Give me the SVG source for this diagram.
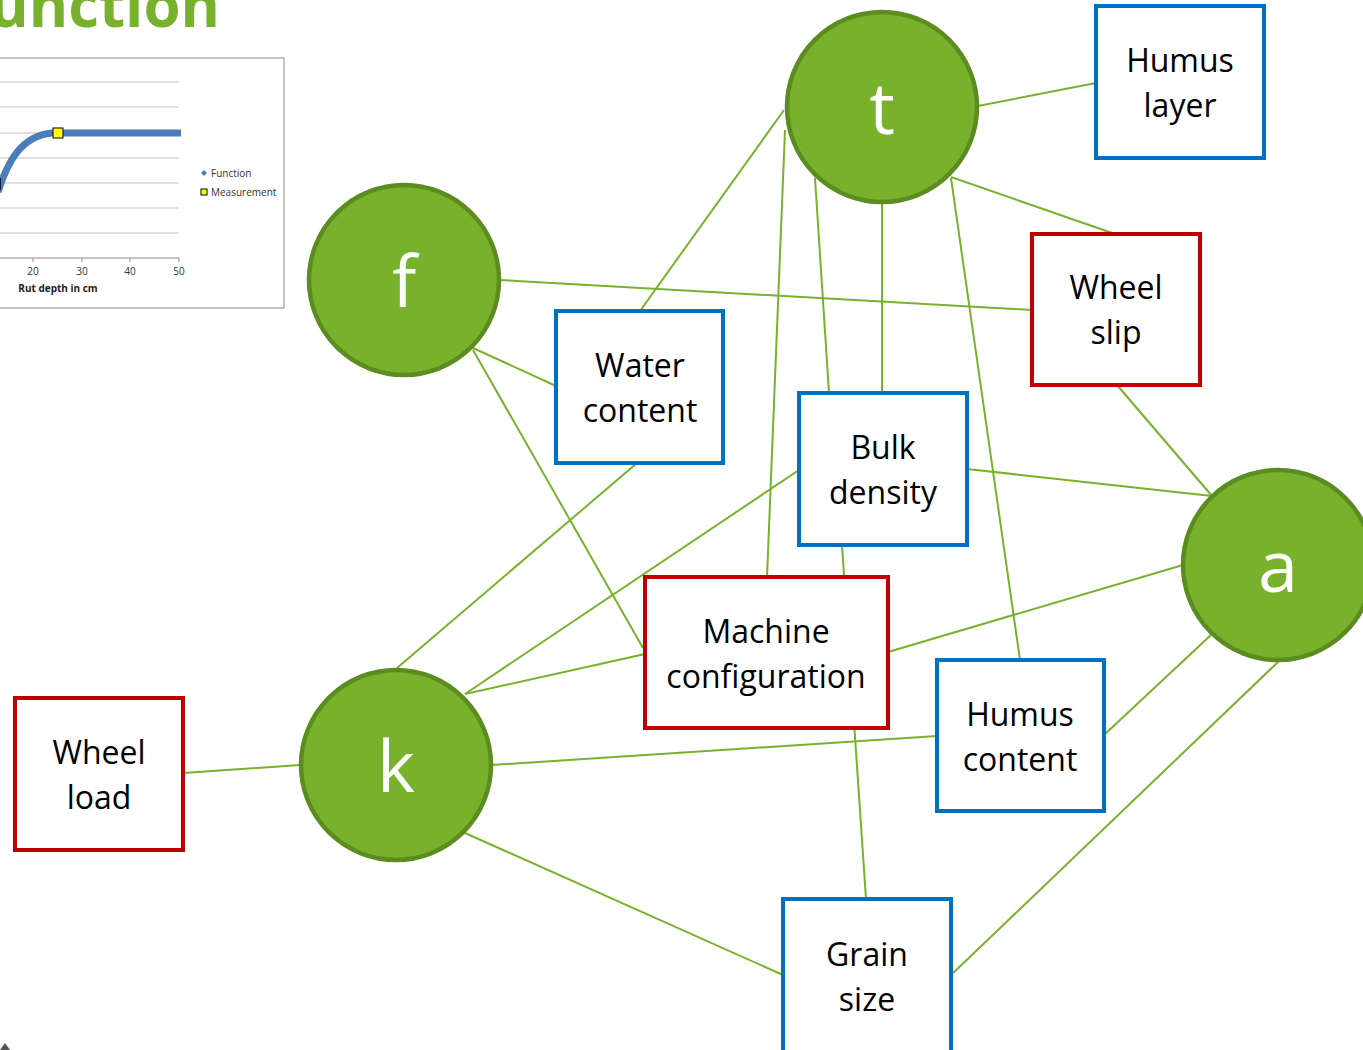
<svg xmlns="http://www.w3.org/2000/svg" width="1363" height="1050" viewBox="0 0 1363 1050">
<style>
.c{fill:#78B22C;stroke:#5C8C1F;stroke-width:4.5}
.ct{font-family:"Open Sans","Noto Sans",sans-serif;font-size:72px;fill:#fff;text-anchor:middle}
.bb{fill:#fff;stroke:#0070C0;stroke-width:4}
.br{fill:#fff;stroke:#C00000;stroke-width:4}
.bt{font-family:"Open Sans","Noto Sans",sans-serif;font-size:32px;fill:#000;text-anchor:middle}
.e{stroke:#78B22C;stroke-width:2;fill:none}
.g{stroke:#BFBFBF;stroke-width:1}
.sm{font-family:"Open Sans","Noto Sans",sans-serif;font-size:10px;fill:#333}
</style>
<rect width="1363" height="1050" fill="#fff"/>
<text x="220" y="27" font-family="Open Sans, Noto Sans, sans-serif" font-weight="bold" font-size="60" fill="#78B22C" text-anchor="end">Function</text>
<g id="chart">
<rect x="-2" y="58" width="286" height="250" fill="#fff" stroke="#8C8C8C" stroke-width="1"/>
<line class="g" x1="0" y1="82" x2="179" y2="82"/>
<line class="g" x1="0" y1="107" x2="179" y2="107"/>
<line class="g" x1="0" y1="133" x2="179" y2="133"/>
<line class="g" x1="0" y1="158" x2="179" y2="158"/>
<line class="g" x1="0" y1="183" x2="179" y2="183"/>
<line class="g" x1="0" y1="208" x2="179" y2="208"/>
<line class="g" x1="0" y1="233" x2="179" y2="233"/>
<line x1="0" y1="258" x2="179" y2="258" stroke="#8C8C8C" stroke-width="1"/>
<path d="M33 258v4M82 258v4M130 258v4M179 258v4" stroke="#8C8C8C" stroke-width="1"/>
<text class="sm" x="33" y="275" text-anchor="middle">20</text>
<text class="sm" x="82" y="275" text-anchor="middle">30</text>
<text class="sm" x="130" y="275" text-anchor="middle">40</text>
<text class="sm" x="179" y="275" text-anchor="middle">50</text>
<text x="58" y="292" font-family="Open Sans, Noto Sans, sans-serif" font-size="10" font-weight="bold" fill="#222" text-anchor="middle">Rut depth in cm</text>
<path d="M-2 192 C8 160 22 136 52 133 L181 133" stroke="#4A7EBB" stroke-width="7" fill="none"/>
<line x1="0" y1="178" x2="0" y2="190" stroke="#000" stroke-width="1.5"/>
<rect x="53" y="128" width="10" height="10" fill="#FFFF00" stroke="#000" stroke-width="1"/>
<path d="M204 170l3 3-3 3-3-3z" fill="#4A7EBB"/>
<text class="sm" x="211" y="177">Function</text>
<rect x="201" y="189" width="6" height="6" fill="#FFFF00" stroke="#000" stroke-width="1"/>
<text class="sm" x="211" y="196">Measurement</text>
</g>
<g id="connectors">
<line class="e" x1="978" y1="106" x2="1096" y2="83"/>
<line class="e" x1="951" y1="177" x2="1115" y2="234"/>
<line class="e" x1="784" y1="110" x2="640" y2="311"/>
<line class="e" x1="785" y1="130" x2="767" y2="577"/>
<line class="e" x1="815" y1="178" x2="829" y2="393"/>
<line class="e" x1="882" y1="204" x2="882" y2="393"/>
<line class="e" x1="951" y1="178" x2="1020" y2="660"/>
<line class="e" x1="500" y1="280" x2="1032" y2="310"/>
<line class="e" x1="473" y1="348" x2="556" y2="386"/>
<line class="e" x1="473" y1="350" x2="643" y2="648"/>
<line class="e" x1="637" y1="463" x2="397" y2="668"/>
<line class="e" x1="799" y1="470" x2="465" y2="694"/>
<line class="e" x1="645" y1="654" x2="465" y2="694"/>
<line class="e" x1="842" y1="545" x2="866" y2="899"/>
<line class="e" x1="967" y1="469" x2="1212" y2="496"/>
<line class="e" x1="1117" y1="385" x2="1212" y2="496"/>
<line class="e" x1="888" y1="652" x2="1183" y2="565"/>
<line class="e" x1="1104" y1="735" x2="1212" y2="634"/>
<line class="e" x1="1278" y1="662" x2="951" y2="975"/>
<line class="e" x1="183" y1="773" x2="300" y2="765"/>
<line class="e" x1="492" y1="765" x2="937" y2="736"/>
<line class="e" x1="465" y1="833" x2="783" y2="975"/>
</g>
<g id="node-t"><circle class="c" cx="882" cy="107" r="95"/><text class="ct" x="882" y="134">t</text></g>
<g id="node-f"><circle class="c" cx="404" cy="280" r="95"/><text class="ct" x="404" y="307">f</text></g>
<g id="node-k"><circle class="c" cx="396" cy="765" r="95"/><text class="ct" x="396" y="792">k</text></g>
<g id="node-a"><circle class="c" cx="1278" cy="565" r="95"/><text class="ct" x="1278" y="592">a</text></g>
<g id="node-humus-layer"><rect class="bb" x="1096" y="6" width="168" height="152"/><text class="bt" x="1180" y="72">Humus</text><text class="bt" x="1180" y="117">layer</text></g>
<g id="node-wheel-slip"><rect class="br" x="1032" y="234" width="168" height="151"/><text class="bt" x="1116" y="299">Wheel</text><text class="bt" x="1116" y="344">slip</text></g>
<g id="node-water-content"><rect class="bb" x="556" y="311" width="167" height="152"/><text class="bt" x="640" y="377">Water</text><text class="bt" x="640" y="422">content</text></g>
<g id="node-bulk-density"><rect class="bb" x="799" y="393" width="168" height="152"/><text class="bt" x="883" y="459">Bulk</text><text class="bt" x="883" y="504">density</text></g>
<g id="node-machine-configuration"><rect class="br" x="645" y="577" width="243" height="151"/><text class="bt" x="766" y="643">Machine</text><text class="bt" x="766" y="688">configuration</text></g>
<g id="node-humus-content"><rect class="bb" x="937" y="660" width="167" height="151"/><text class="bt" x="1020" y="726">Humus</text><text class="bt" x="1020" y="771">content</text></g>
<g id="node-wheel-load"><rect class="br" x="15" y="698" width="168" height="152"/><text class="bt" x="99" y="764">Wheel</text><text class="bt" x="99" y="809">load</text></g>
<g id="node-grain-size"><rect class="bb" x="783" y="899" width="168" height="156"/><text class="bt" x="867" y="966">Grain</text><text class="bt" x="867" y="1011">size</text></g>
<path d="M0 1050 L5 1043 L10 1050 Z" fill="#555"/>
</svg>
